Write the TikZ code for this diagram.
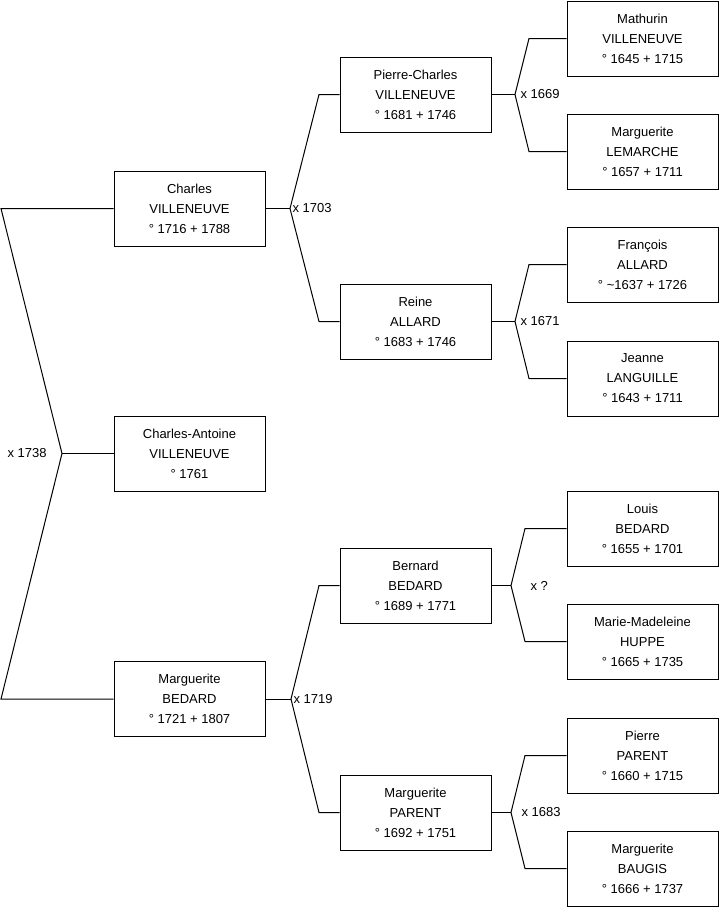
\documentclass[tikz,border=0pt]{standalone}
\usepackage{fontspec}
\setmainfont{Liberation Sans}

\begin{document}
\begin{tikzpicture}[
  x=1pt, y=-1pt, line width=1pt,
  person/.style={rectangle, draw=black, minimum width=151pt, minimum height=75pt,
    inner sep=0pt, align=center, font=\fontsize{13}{20}\selectfont},
  union/.style={anchor=west, inner sep=0pt, font=\fontsize{13}{16}\selectfont}
]
\useasboundingbox (0,0) rectangle (719,908);

% generation 1
\node[person] (cv)  at (189.5,208.5) {Charles\\VILLENEUVE\\° 1716 + 1788};
\node[person] (cav) at (189.5,453.5) {Charles-Antoine\\VILLENEUVE\\° 1761};
\node[person] (mb)  at (189.5,699)   {Marguerite\\BEDARD\\° 1721 + 1807};

% generation 2
\node[person] (pcv) at (415.5,94.5)  {Pierre-Charles\\VILLENEUVE\\° 1681 + 1746};
\node[person] (ra)  at (415.5,321.5) {Reine\\ALLARD\\° 1683 + 1746};
\node[person] (bb)  at (415.5,585.5) {Bernard\\BEDARD\\° 1689 + 1771};
\node[person] (mp)  at (415.5,812.5) {Marguerite\\PARENT\\° 1692 + 1751};

% generation 3
\node[person] (mv)  at (642.5,38.5)  {Mathurin\\VILLENEUVE\\° 1645 + 1715};
\node[person] (ml)  at (642.5,151.5) {Marguerite\\LEMARCHE\\° 1657 + 1711};
\node[person] (fa)  at (642.5,264.5) {François\\ALLARD\\° \textasciitilde1637 + 1726};
\node[person] (jl)  at (642.5,378.5) {Jeanne\\LANGUILLE\\° 1643 + 1711};
\node[person] (lb)  at (642.5,528.5) {Louis\\BEDARD\\° 1655 + 1701};
\node[person] (mh)  at (642.5,641.5) {Marie-Madeleine\\HUPPE\\° 1665 + 1735};
\node[person] (pp)  at (642.5,755.5) {Pierre\\PARENT\\° 1660 + 1715};
\node[person] (mba) at (642.5,868.5) {Marguerite\\BAUGIS\\° 1666 + 1737};

% junctions and elbows
\coordinate (m0)  at (62,453.5);
\coordinate (m0a) at (1,208.5);
\coordinate (m0b) at (1,699);
\coordinate (m1)  at (290,208.5);
\coordinate (m1a) at (319,94.5);
\coordinate (m1b) at (319,321.5);
\coordinate (m2)  at (291,699);
\coordinate (m2a) at (319,585.5);
\coordinate (m2b) at (319,812.5);
\coordinate (m3)  at (515,94.5);
\coordinate (m3a) at (529,38.5);
\coordinate (m3b) at (529,151.5);
\coordinate (m4)  at (515,321.5);
\coordinate (m4a) at (529,264.5);
\coordinate (m4b) at (529,378.5);
\coordinate (m5)  at (511,585.5);
\coordinate (m5a) at (525,528.5);
\coordinate (m5b) at (525,641.5);
\coordinate (m6)  at (511,812.5);
\coordinate (m6a) at (525,755.5);
\coordinate (m6b) at (525,868.5);

% connectors
\draw (cv.west) -- (m0a) -- (m0) -- (m0b) -- (mb.west);
\draw (m0) -- (cav.west);
\draw (cv.east) -- (m1);
\draw (pcv.west) -- (m1a) -- (m1) -- (m1b) -- (ra.west);
\draw (mb.east) -- (m2);
\draw (bb.west) -- (m2a) -- (m2) -- (m2b) -- (mp.west);
\draw (pcv.east) -- (m3);
\draw (mv.west) -- (m3a) -- (m3) -- (m3b) -- (ml.west);
\draw (ra.east) -- (m4);
\draw (fa.west) -- (m4a) -- (m4) -- (m4b) -- (jl.west);
\draw (bb.east) -- (m5);
\draw (lb.west) -- (m5a) -- (m5) -- (m5b) -- (mh.west);
\draw (mp.east) -- (m6);
\draw (pp.west) -- (m6a) -- (m6) -- (m6b) -- (mba.west);

% marriage labels
\node[union] (x0) at (7,453.5)   {x 1738};
\node[union] (x1) at (292,208.5) {x 1703};
\node[union] (x2) at (293,699)   {x 1719};
\node[union] (x3) at (520,94.5)  {x 1669};
\node[union] (x4) at (520,321.5) {x 1671};
\node[union] (x5) at (530,585.5) {x ?};
\node[union] (x6) at (521,812.5) {x 1683};

\end{tikzpicture}
\end{document}
